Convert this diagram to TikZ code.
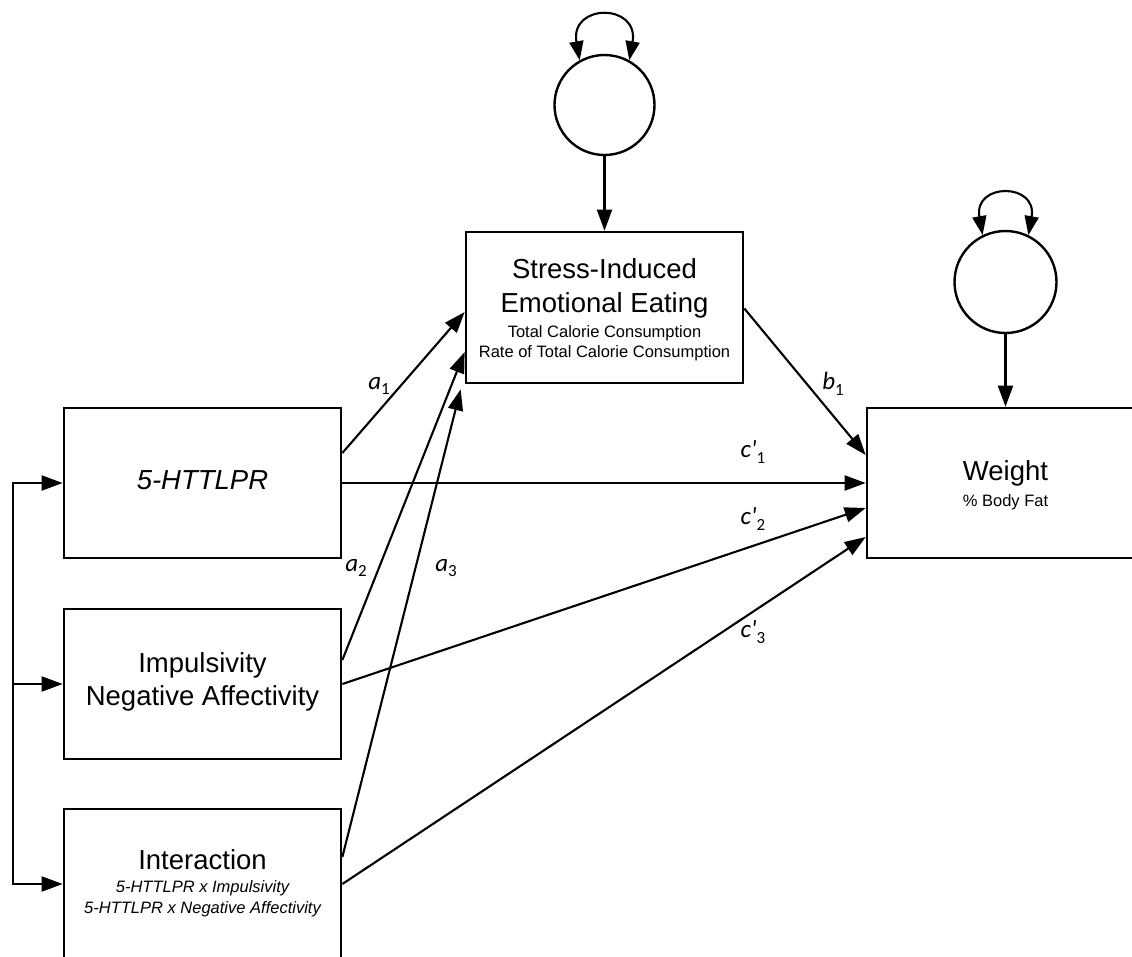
\documentclass[tikz,border=0pt]{standalone}
\usepackage{fontspec}
\setmainfont{Liberation Sans}
\newfontfamily\labfont{Carlito}
\usetikzlibrary{arrows.meta}
\newcommand\lbl[2]{\textit{#1}\raisebox{-0.22em}{\fontsize{17}{20}\selectfont #2}}
\begin{document}
\begin{tikzpicture}[x=1pt,y=1pt,
  box/.style={draw, line width=2.7pt, minimum width=277pt, minimum height=150pt, inner sep=0pt},
  circ/.style={draw, circle, line width=2.4pt, minimum size=100pt, inner sep=0pt},
  big/.style={font=\fontsize{27.5}{32}\selectfont, anchor=base, inner sep=0pt},
  small/.style={font=\fontsize{16.5}{20}\selectfont, anchor=base, inner sep=0pt},
  lab/.style={font=\labfont\fontsize{25}{30}\selectfont, inner sep=0pt},
  arr/.style={line width=2.1pt, -{Triangle[length=21pt,width=15pt]}},
  dbl/.style={line width=2.1pt, {Triangle[length=19pt,width=14pt]}-{Triangle[length=19pt,width=14pt]}}]
\clip (0,0) rectangle (1132,-956);
% boxes
\node[box, minimum height=151pt] (S) at (604.5,-307.5) {};
\node[box] (H) at (202.5,-483) {};
\node[box] (I) at (202.5,-684) {};
\node[box] (X) at (202.5,-884) {};
\node[box] (W) at (1005.5,-483) {};
\node[circ] (E1) at (604.5,-105) {};
\node[circ, minimum size=102pt] (E2) at (1005.5,-282) {};
% texts
\node[big] (s1) at (604.5,-278) {Stress-Induced};
\node[big] (s2) at (604.5,-312) {Emotional Eating};
\node[small] (s3) at (604.5,-337) {Total Calorie Consumption};
\node[small] (s4) at (604.5,-357) {Rate of Total Calorie Consumption};
\node[big] (h1) at (202.5,-489) {\itshape 5-HTTLPR};
\node[big] (i1) at (202.5,-672) {Impulsivity};
\node[big] (i2) at (202.5,-705) {Negative Affectivity};
\node[big] (x1) at (202.5,-869) {Interaction};
\node[small] (x2) at (202.5,-892) {\itshape 5-HTTLPR x Impulsivity};
\node[small] (x3) at (202.5,-913) {\itshape 5-HTTLPR x Negative Affectivity};
\node[big] (w1) at (1005.5,-480) {Weight};
\node[small] (w2) at (1005.5,-506) {\% Body Fat};
% labels
\node[lab] (la1) at (379,-386) {\lbl{a}{1}};
\node[lab] (la2) at (356,-568) {\lbl{a}{2}};
\node[lab] (la3) at (446,-568) {\lbl{a}{3}};
\node[lab] (lb1) at (833,-384) {\lbl{b}{1}};
\node[lab] (lc1) at (753,-452) {\lbl{c\textquotesingle}{1}};
\node[lab] (lc2) at (753,-519) {\lbl{c\textquotesingle}{2}};
\node[lab] (lc3) at (753,-632) {\lbl{c\textquotesingle}{3}};
% error terms
\draw[arr] (E1.south) -- (S.north);
\draw[arr] (E2.south) -- (W.north);
\draw[dbl] (E1.119) to[out=100,in=80,looseness=3] (E1.61);
\draw[dbl] (E2.116) to[out=100,in=80,looseness=3] (E2.64);
% bracket
\coordinate (bt) at (13,-483);
\coordinate (bm) at (13,-684);
\coordinate (bb) at (13,-884);
\draw[line width=2.1pt, line cap=rect] (bt) -- (bb);
\draw[arr] (bt) -- (H.west);
\draw[arr] (bm) -- (I.west);
\draw[arr] (bb) -- (X.west);
% paths
\draw[arr] ([yshift=30pt]H.east) -- ([yshift=-4.5pt]S.west);
\draw[arr] ([yshift=24pt]I.east) -- ([yshift=-44.5pt]S.west);
\draw[arr] ([yshift=27pt]X.east) -- ([xshift=-4pt,yshift=-5pt]S.south west);
\draw[arr] ([yshift=-1pt]S.east) -- ([yshift=28pt]W.west);
\draw[arr] (H.east) -- (W.west);
\draw[arr] (I.east) -- ([yshift=-25pt]W.west);
\draw[arr] (X.east) -- ([yshift=-54pt]W.west);
\end{tikzpicture}
\end{document}
